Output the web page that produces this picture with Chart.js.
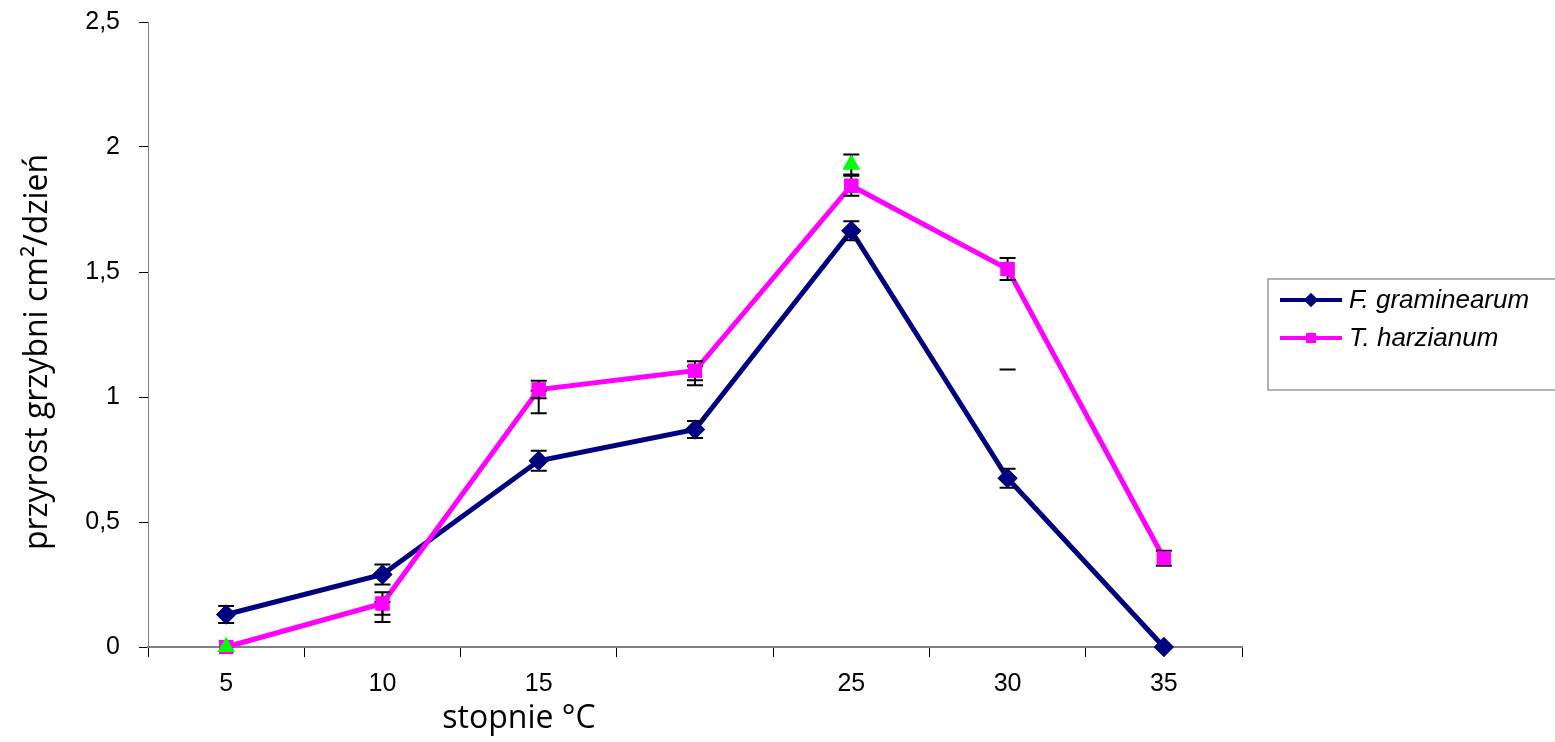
<!DOCTYPE html>
<html>
<head>
<meta charset="utf-8">
<script src="https://cdn.jsdelivr.net/npm/chart.js@4.4.1/dist/chart.umd.min.js"></script>
<style>
  html, body { margin: 0; padding: 0; background: #ffffff; }
  #wrap { position: relative; width: 1555px; height: 742px; }
  canvas { display: block; }
</style>
</head>
<body>
<div id="wrap"><canvas id="c" width="1555" height="742"></canvas></div>
<script>
// ---- data ----
const categories = ['5', '10', '15', '', '25', '30', '35'];
const yTickLabels = ['0', '0,5', '1', '1,5', '2', '2,5'];

const graminearum = [0.13, 0.29, 0.745, 0.87, 1.665, 0.675, 0];
const graminearumErr = [0.034, 0.04, 0.04, 0.034, 0.038, 0.038, null];

const harzianum = [0, 0.174, 1.03, 1.105, 1.845, 1.512, 0.355];
const harzianumErr = [null, 0.045, 0.035, 0.038, 0.04, 0.044, 0.03];

const extra = [0, 0.14, 0.98, 1.085, 1.93, 1.11, null];
const extraErr = [null, 0.04, 0.045, 0.038, 0.04, 0, null];
const extraShown = [true, false, false, false, true, false, false];

const seriesNames = ['F. graminearum', 'T. harzianum'];
const yTitle = 'przyrost grzybni cm\u00B2/dzie\u0144';
const xTitle = 'stopnie \u00B0C';

// ---- plugins ----
const errorBars = {
  id: 'errorBars',
  afterDatasetsDraw(chart) {
    const ctx = chart.ctx;
    const ys = chart.scales.y;
    const errs = [graminearumErr, harzianumErr, extraErr];
    ctx.save();
    ctx.strokeStyle = '#000000';
    ctx.lineWidth = 2;
    chart.data.datasets.forEach((ds, di) => {
      const meta = chart.getDatasetMeta(di);
      meta.data.forEach((pt, i) => {
        const e = errs[di][i];
        const v = ds.data[i];
        if (e === null || e === undefined || v === null) return;
        const x = pt.x;
        const yt = ys.getPixelForValue(v + e);
        const yb = ys.getPixelForValue(v - e);
        ctx.beginPath();
        ctx.moveTo(x, yt); ctx.lineTo(x, yb);
        ctx.moveTo(x - 8, yt); ctx.lineTo(x + 8, yt);
        ctx.moveTo(x - 8, yb); ctx.lineTo(x + 8, yb);
        ctx.stroke();
      });
    });
    ctx.restore();
    // redraw markers on top of the error bars (navy, pink, then green)
    [0, 1, 2].forEach(di => {
      const meta = chart.getDatasetMeta(di);
      meta.data.forEach(pt => { pt.draw(ctx); });
    });
  }
};

const textsAndLegend = {
  id: 'textsAndLegend',
  afterDraw(chart) {
    const ctx = chart.ctx;
    ctx.save();
    ctx.fillStyle = '#000';
    ctx.font = '32px "Open Sans", "Noto Sans", sans-serif';
    ctx.textAlign = 'center';
    ctx.textBaseline = 'middle';
    ctx.translate(38, 352);
    ctx.rotate(-Math.PI / 2);
    ctx.fillText(yTitle, 0, 0);
    ctx.restore();

    ctx.save();
    ctx.fillStyle = '#000';
    ctx.font = '32px "Open Sans", "Noto Sans", sans-serif';
    ctx.textAlign = 'center';
    ctx.textBaseline = 'middle';
    ctx.fillText(xTitle, 519, 719);

    // legend box
    ctx.strokeStyle = '#999999';
    ctx.lineWidth = 1.5;
    ctx.beginPath();
    ctx.moveTo(1600, 279); ctx.lineTo(1268, 279); ctx.lineTo(1268, 390); ctx.lineTo(1600, 390);
    ctx.stroke();

    const rows = [
      { y: 300, color: '#000080', style: 'rectRot', name: seriesNames[0] },
      { y: 338, color: '#FF00FF', style: 'rect', name: seriesNames[1] }
    ];
    rows.forEach(r => {
      ctx.strokeStyle = r.color;
      ctx.lineWidth = 4;
      ctx.beginPath();
      ctx.moveTo(1280, r.y); ctx.lineTo(1342, r.y);
      ctx.stroke();
      ctx.fillStyle = r.color;
      Chart.helpers.drawPoint(ctx, { pointStyle: r.style, radius: 7, borderWidth: 0 }, 1311, r.y);
      ctx.fill();
      ctx.fillStyle = '#000';
      ctx.font = 'italic 26px "Liberation Sans", Arial, sans-serif';
      ctx.textAlign = 'left';
      ctx.textBaseline = 'middle';
      ctx.fillText(r.name, 1349, r.y + 1);
    });
    ctx.restore();
  }
};

// ---- chart ----
new Chart(document.getElementById('c'), {
  type: 'line',
  data: {
    labels: categories,
    datasets: [
      {
        label: seriesNames[0],
        data: graminearum,
        borderColor: '#000080',
        backgroundColor: '#000080',
        borderWidth: 5,
        pointStyle: 'rectRot',
        pointRadius: 10,
        pointBorderWidth: 0,
        tension: 0,
        clip: false,
        order: 3
      },
      {
        label: seriesNames[1],
        data: harzianum,
        borderColor: '#FF00FF',
        backgroundColor: '#FF00FF',
        borderWidth: 5,
        pointStyle: 'rect',
        pointRadius: 10,
        pointBorderWidth: 0,
        tension: 0,
        clip: false,
        order: 2
      },
      {
        label: 'extra',
        data: extra,
        showLine: false,
        borderColor: '#00FF00',
        backgroundColor: '#00FF00',
        pointStyle: 'triangle',
        pointRadius: extraShown.map(s => s ? 10 : 0),
        pointBorderWidth: 0,
        clip: false,
        order: 1
      }
    ]
  },
  options: {
    responsive: false,
    animation: false,
    events: [],
    layout: { padding: { left: 0, right: 313, top: 22, bottom: 0 } },
    plugins: { legend: { display: false }, tooltip: { enabled: false }, title: { display: false } },
    scales: {
      x: {
        type: 'category',
        offset: true,
        grid: {
          offset: true,
          drawOnChartArea: false,
          drawTicks: true,
          tickLength: 10,
          color: '#000000',
          lineWidth: 1
        },
        border: { display: true, color: '#808080', width: 2 },
        ticks: {
          color: '#000000',
          font: { family: '"Liberation Sans", Arial, sans-serif', size: 25 },
          padding: 12,
          maxRotation: 0,
          autoSkip: false
        },
        afterFit(scale) { scale.height = 95; scale.paddingLeft = 0; scale.paddingRight = 0; }
      },
      y: {
        min: 0,
        max: 2.5,
        ticks: {
          stepSize: 0.5,
          color: '#000000',
          font: { family: '"Liberation Sans", Arial, sans-serif', size: 25 },
          padding: 19,
          callback: (v, i) => yTickLabels[i]
        },
        grid: {
          drawOnChartArea: false,
          drawTicks: true,
          tickLength: 9,
          color: '#000000',
          lineWidth: 1
        },
        border: { display: true, color: '#808080', width: 1 },
        afterFit(scale) { scale.width = 148; scale.paddingTop = 0; scale.paddingBottom = 0; }
      }
    }
  },
  plugins: [errorBars, textsAndLegend]
});
</script>
</body>
</html>
